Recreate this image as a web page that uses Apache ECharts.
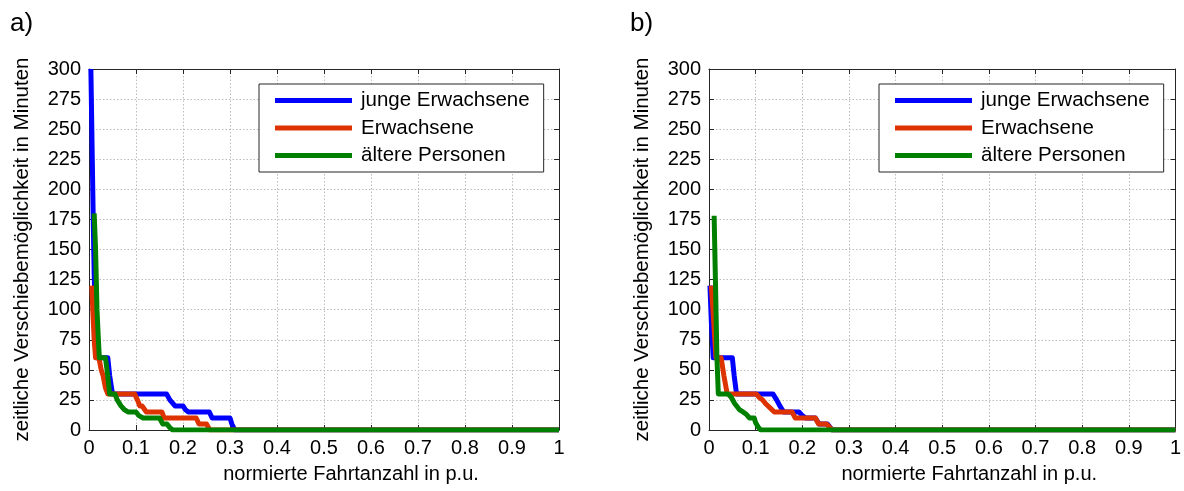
<!DOCTYPE html>
<html>
<head>
<meta charset="utf-8">
<script src="https://cdn.jsdelivr.net/npm/echarts@6/dist/echarts.min.js"></script>
<style>html,body{margin:0;padding:0;background:#fff}#c{width:1184px;height:491px}</style>
</head>
<body>
<div id="c"></div>
<script>
// ---- data ----
const seriesNames = ['junge Erwachsene', 'Erwachsene', 'ältere Personen'];
const panelLabels = ['a)', 'b)'];
const xTickLabels = ['0','0.1','0.2','0.3','0.4','0.5','0.6','0.7','0.8','0.9','1'];
const yTicks = [0,25,50,75,100,125,150,175,200,225,250,275,300];
const xAxisTitle = 'normierte Fahrtanzahl in p.u.';
const yAxisTitle = 'zeitliche Verschiebemöglichkeit in Minuten';

// panel a)
const aJungeX = [0.004,0.006,0.009,0.011,0.013,0.015,0.040,0.044,0.050,0.165,0.172,0.183,0.200,0.205,0.211,0.256,0.262,0.300,0.304,0.310,1];
const aJungeY = [300,250,175,130,100,60,60,45,30,30,25,20,20,17,15,15,10,10,5,0,0];
const aErwX = [0.006,0.008,0.011,0.014,0.021,0.026,0.030,0.035,0.040,0.097,0.103,0.108,0.113,0.122,0.155,0.160,0.228,0.234,0.250,0.257,1];
const aErwY = [120,100,75,60,60,50,45,35,30,30,25,20,20,15,15,10,10,5,5,0,0];
const aAeltX = [0.011,0.014,0.017,0.020,0.022,0.035,0.040,0.044,0.055,0.060,0.068,0.075,0.083,0.100,0.106,0.115,0.150,0.157,0.166,0.172,0.178,1];
const aAeltY = [180,150,100,75,60,60,45,30,30,25,20,17,15,15,12,10,10,5,5,2,0,0];

// panel b)
const bJungeX = [0.002,0.005,0.009,0.050,0.054,0.059,0.137,0.145,0.152,0.160,0.193,0.200,0.207,0.228,0.236,0.254,0.264,1];
const bJungeY = [120,90,60,60,45,30,30,25,20,15,15,12,10,10,5,5,0,0];
const bErwX = [0.005,0.010,0.015,0.026,0.032,0.039,0.101,0.108,0.115,0.121,0.132,0.140,0.178,0.185,0.228,0.235,0.252,0.264,1];
const bErwY = [120,90,60,60,45,30,30,27,25,22,18,15,15,10,10,5,5,0,0];
const bAeltX = [0.011,0.014,0.017,0.020,0.041,0.048,0.055,0.065,0.073,0.080,0.087,0.097,0.100,0.106,0.111,1];
const bAeltY = [178,120,60,30,30,27,22,17,15,13,10,10,6,2,0,0];

const colors = ['#0000ff', '#dd3300', '#008000'];
// ---- chart ----
const zip = (xs, ys) => xs.map((x, i) => [x, ys[i]]);
const FONT = '"Liberation Sans", Arial, sans-serif';
const AX = '#262626';
const grids = [
  {left: 89, top: 69, width: 470, height: 361},
  {left: 709, top: 69, width: 469, height: 361}
];
const xAxes = [], yAxes = [];
grids.forEach((g, gi) => {
  xAxes.push({
    gridIndex: gi, type: 'value', min: 0, max: 1, interval: 0.1, position: 'bottom',
    name: xAxisTitle, nameLocation: 'middle', nameGap: 34,
    nameTextStyle: {fontFamily: FONT, fontSize: 20, color: '#000', padding: [0, 0, 0, 54]},
    axisLine: {show: true, lineStyle: {color: AX, width: 1}},
    axisTick: {show: true, inside: true, length: 5, lineStyle: {color: AX}},
    axisLabel: {fontFamily: FONT, fontSize: 20, color: '#000', margin: 8,
      formatter: v => xTickLabels[Math.round(v * 10)]},
    splitLine: {show: true, lineStyle: {type: [1.5, 2], color: '#bcbcbc', width: 1}}
  });
  xAxes.push({
    gridIndex: gi, type: 'value', min: 0, max: 1, interval: 0.1, position: 'top',
    axisLine: {show: true, onZero: false, lineStyle: {color: AX, width: 1}},
    axisTick: {show: true, inside: true, length: 5, lineStyle: {color: AX}},
    axisLabel: {show: false}, splitLine: {show: false}
  });
  yAxes.push({
    gridIndex: gi, type: 'value', min: 0, max: 300, interval: 25, position: 'left',
    name: yAxisTitle, nameLocation: 'middle', nameGap: 56,
    nameTextStyle: {fontFamily: FONT, fontSize: 20.5, color: '#000'},
    axisLine: {show: true, lineStyle: {color: AX, width: 1}},
    axisTick: {show: true, inside: true, length: 5, lineStyle: {color: AX}},
    axisLabel: {fontFamily: FONT, fontSize: 20, color: '#000', margin: 8,
      formatter: v => String(yTicks[Math.round(v / 25)])},
    splitLine: {show: true, lineStyle: {type: [1.5, 2], color: '#bcbcbc', width: 1}}
  });
  yAxes.push({
    gridIndex: gi, type: 'value', min: 0, max: 300, interval: 25, position: 'right',
    axisLine: {show: true, onZero: false, lineStyle: {color: AX, width: 1}},
    axisTick: {show: true, inside: true, length: 5, lineStyle: {color: AX}},
    axisLabel: {show: false}, splitLine: {show: false}
  });
});

const panelData = [
  [zip(aJungeX, aJungeY), zip(aErwX, aErwY), zip(aAeltX, aAeltY)],
  [zip(bJungeX, bJungeY), zip(bErwX, bErwY), zip(bAeltX, bAeltY)]
];
const series = [];
panelData.forEach((sets, gi) => {
  sets.forEach((d, si) => {
    series.push({
      type: 'line', name: seriesNames[si], data: d,
      xAxisIndex: gi * 2, yAxisIndex: gi * 2,
      showSymbol: false, symbol: 'none', smooth: false, clip: true,
      lineStyle: {color: colors[si], width: 5, join: 'round'},
      itemStyle: {color: colors[si]},
      emphasis: {disabled: true}, animation: false, z: 2 + si
    });
  });
});

const legendBase = {
  orient: 'vertical', top: 84, borderColor: '#262626', borderWidth: 1,
  backgroundColor: '#fff', padding: [6, 14, 6, 16], itemGap: 6.5,
  icon: 'rect', itemWidth: 77, itemHeight: 5,
  textStyle: {fontFamily: FONT, fontSize: 20.5, color: '#000', padding: [0, 0, 0, 4]},
  data: seriesNames, selectedMode: false
};
const chart = echarts.init(document.getElementById('c'), null, {renderer: 'canvas'});
chart.setOption({
  animation: false,
  backgroundColor: '#fff',
  color: colors,
  title: [
    {text: panelLabels[0], left: 5, top: 6, textStyle: {fontFamily: FONT, fontSize: 26, fontWeight: 'normal', color: '#000'}},
    {text: panelLabels[1], left: 625, top: 6, textStyle: {fontFamily: FONT, fontSize: 26, fontWeight: 'normal', color: '#000'}}
  ],
  legend: [
    Object.assign({}, legendBase, {left: 259}),
    Object.assign({}, legendBase, {left: 879})
  ],
  grid: grids,
  xAxis: xAxes,
  yAxis: yAxes,
  series: series
});
</script>
</body>
</html>
